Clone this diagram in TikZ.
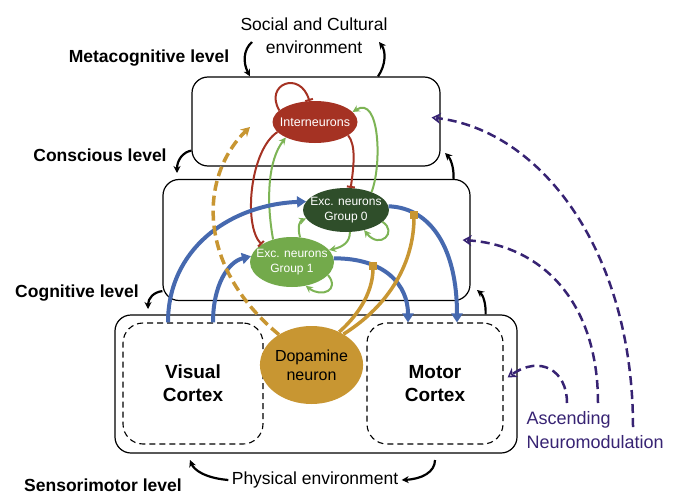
\documentclass[tikz,border=0pt]{standalone}
\usepackage{fontspec}
\setmainfont{Liberation Sans}
\usepackage{tikz}
\usetikzlibrary{arrows.meta, shapes.geometric}

\definecolor{inhred}{RGB}{165,50,35}
\definecolor{exdark}{RGB}{47,78,42}
\definecolor{exlight}{RGB}{115,170,75}
\definecolor{greenline}{RGB}{125,180,85}
\definecolor{conblue}{RGB}{70,105,175}
\definecolor{dopagold}{RGB}{200,150,50}
\definecolor{modpurple}{RGB}{55,35,115}

\tikzset{
  levelbox/.style={draw, line width=1.2pt, rounded corners=16pt, fill=white},
  cortexbox/.style={draw, dash pattern=on 6pt off 4pt, line width=1.1pt, rounded corners=20pt, align=center, font=\fontsize{19}{23}\selectfont\bfseries},
  levellabel/.style={font=\fontsize{17.5}{21}\selectfont\bfseries},
  neuron/.style={ellipse, inner sep=0pt},
  neurontext/.style={text=white, align=center, font=\fontsize{12}{14.5}\selectfont},
  blueconn/.style={line width=4pt, draw=conblue, -{Triangle[length=9pt,width=11pt]}},
  goldconn/.style={line width=3.5pt, draw=dopagold, -{Square[length=8pt,width=8pt]}},
  greenconn/.style={line width=2pt, draw=greenline, -{Stealth[length=7pt,width=7pt]}},
  inhib/.style={line width=2pt, draw=inhred, -{Bar[width=8pt]}},
  modconn/.style={line width=2.5pt, draw=modpurple, dash pattern=on 9pt off 5pt, -{Stealth[open,length=9pt,width=11pt]}},
  envarrow/.style={line width=2.2pt, -{Stealth[length=7pt,width=7pt]}},
}

\begin{document}
\begin{tikzpicture}[x=1pt, y=-1pt]
    \useasboundingbox (0,0) rectangle (680,503);

    % levels
    \node[levelbox, minimum width=248pt, minimum height=89pt] (metabox) at (316,121.5) {};
    \node[levelbox, minimum width=307pt, minimum height=121pt] (cogbox) at (316.5,240) {};
    \node[levelbox, minimum width=402pt, minimum height=138pt] (sensbox) at (316,384) {};
    \node[cortexbox, minimum width=140pt, minimum height=121pt] (visual) at (193,383.5) {Visual\\Cortex};
    \node[cortexbox, minimum width=136pt, minimum height=121pt] (motor) at (435,383.5) {Motor\\Cortex};

    \node[levellabel] (metalabel) at (149,58) {Metacognitive level};
    \node[levellabel] (conslabel) at (100,155) {Conscious level};
    \node[levellabel] (coglabel) at (77,293) {Cognitive level};
    \node[levellabel] (senslabel) at (103,485) {Sensorimotor level};
    \node[align=center, font=\fontsize{17.5}{23}\selectfont] (social) at (314,36) {Social and Cultural\\environment};
    \node[font=\fontsize{17.5}{21}\selectfont] (physical) at (315,480) {Physical environment};
    \node[anchor=west, align=left, text=modpurple, font=\fontsize{18}{24}\selectfont] (neuromod) at (523,430) {Ascending\\Neuromodulation};

    % neurons
    \node[neuron, fill=inhred, minimum width=85pt, minimum height=42pt] (inter) at (315,122) {};
    \node[neurontext, font=\fontsize{12.5}{14}\selectfont] (intertext) at (inter.center) {Interneurons};
    \node[neuron, fill=exdark, minimum width=86pt, minimum height=44pt] (exczero) at (346,210) {};
    \node[neurontext] (exczerotext) at (exczero.center) {Exc. neurons\\Group 0};
    \node[neuron, fill=exlight, minimum width=84pt, minimum height=50pt] (excone) at (292,262) {};
    \node[neurontext] (exconetext) at (excone.center) {Exc. neurons\\Group 1};
    \node[ellipse, fill=dopagold, minimum width=87pt, minimum height=78pt, inner sep=0pt, align=center, font=\fontsize{16}{19}\selectfont] (dopa) at (311.5,365) {Dopamine\\neuron};

    % environment loops
    \coordinate (socL) at (252,42);
    \coordinate (socR) at (379,42);
    \coordinate (consend) at (177,173);
    \coordinate (cogend) at (148,309);
    \coordinate (metaend) at (445,153);
    \coordinate (sensend) at (477,290);
    \coordinate (physL) at (190,460);
    \coordinate (physR) at (435,460);
    \draw[envarrow] (socL) .. controls (243,50) and (243,63) .. ([xshift=-66pt]metabox.north);
    \draw[envarrow] ([xshift=62pt]metabox.north) .. controls (386,65) and (386,51) .. (socR);
    \draw[envarrow] ([yshift=16pt]metabox.south west) .. controls (183,152) and (177,160) .. (consend);
    \draw[envarrow] ([yshift=10pt]cogbox.south west) .. controls (154,292) and (148,298) .. (cogend);
    \draw[envarrow] ([xshift=-17pt]cogbox.north east) .. controls (454,166) and (450,158) .. (metaend);
    \draw[envarrow] ([xshift=-32pt]sensbox.north east) .. controls (486,303) and (483,295) .. (sensend);
    \draw[envarrow] (physical.west) .. controls (205,478) and (194,470) .. (physL);
    \draw[envarrow] (physR) .. controls (435,472) and (422,479) .. (physical.east);

    % neuromodulation
    \coordinate (modA) at (567,403);
    \coordinate (modB) at (598,403);
    \coordinate (modC) at (633,427);
    \draw[modconn] (modC) .. controls (633,250) and (540,130) .. ([xshift=-9pt,yshift=4pt]metabox.east);
    \draw[modconn] (modB) .. controls (598,300) and (540,245) .. ([xshift=-8pt]cogbox.east);
    \draw[modconn] (modA) .. controls (567,370) and (540,355) .. ([xshift=4pt,yshift=6pt]motor.east);

    % inhibition
    \draw[inhib] (inter.162) .. controls (264,84) and (300,70) .. (inter.105);
    \draw[inhib] (inter.195) .. controls (250,150) and (243,225) .. (excone.150);
    \draw[inhib] (inter.-22) .. controls (356,145) and (354,165) .. (exczero.78);

    % excitation
    \draw[greenconn] (excone.130) .. controls (266,200) and (268,160) .. (inter.208);
    \draw[greenconn] (exczero.35) .. controls (382,165) and (380,95) .. (inter.15);
    \draw[greenconn] (excone.72) .. controls (297,226) and (300,221) .. (exczero.192);
    \draw[greenconn] (exczero.-80) .. controls (350,242) and (343,247) .. (excone.18);
    \draw[greenconn] (exczero.-18) .. controls (398,232) and (380,250) .. (exczero.-48);
    \draw[greenconn] (excone.-20) .. controls (340,290) and (322,298) .. (excone.-60);

    % cortex pathways
    \draw[blueconn] ([xshift=-25pt]visual.north) .. controls (168,250) and (228,205) .. (exczero.168);
    \draw[blueconn] ([xshift=20pt]visual.north) .. controls (213,285) and (228,262) .. (excone.172);
    \draw[blueconn] (exczero.5) .. controls (432,208) and (457,250) .. ([xshift=22pt]motor.north);
    \draw[blueconn] (excone.5) .. controls (385,258) and (408,285) .. ([xshift=-27pt]motor.north);

    % dopamine
    \coordinate (dopaend) at (250,127);
    \coordinate (gateone) at (373,262);
    \coordinate (gatezero) at (414,211);
    \draw[line width=3.5pt, draw=dopagold, dash pattern=on 10pt off 5pt, -{Stealth[length=9pt,width=10pt]}] (dopa.137) .. controls (195,265) and (200,175) .. (dopaend);
    \draw[goldconn] (dopa.50) .. controls (355,318) and (373,295) .. (gateone);
    \draw[goldconn] (dopa.44) .. controls (390,305) and (414,262) .. (gatezero);
\end{tikzpicture}
\end{document}
